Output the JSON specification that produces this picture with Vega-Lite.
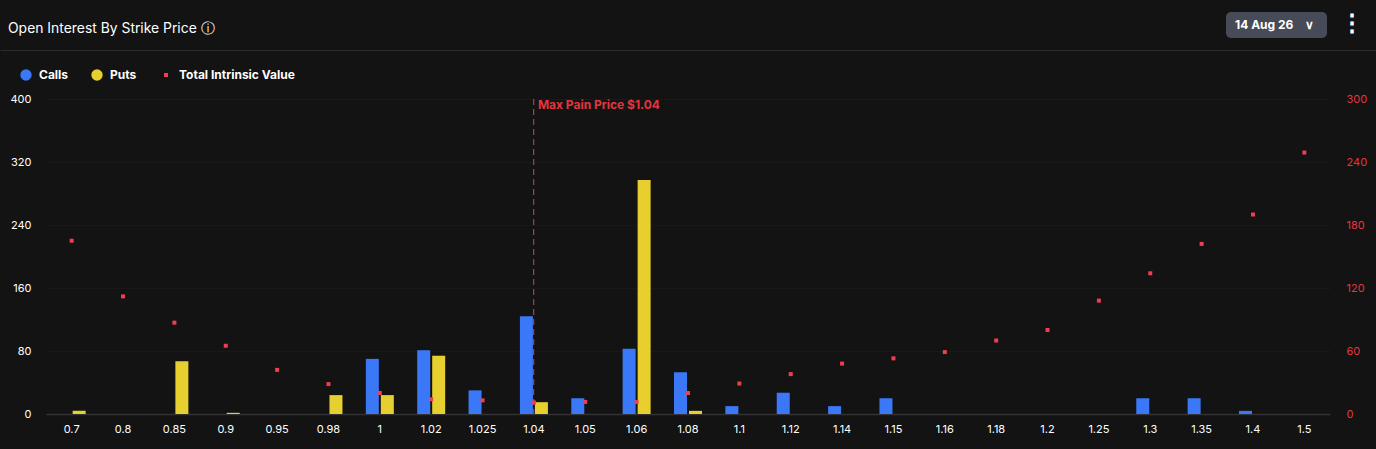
{
  "$schema": "https://vega.github.io/schema/vega-lite/v6.json",
  "description": "Open interest by strike price",
  "autosize": "none",
  "padding": {"left": 0, "top": 50, "right": 0, "bottom": 0},
  "width": 1376,
  "height": 399,
  "background": "#131313",
  "view": {"fill": "#131313", "stroke": "#2a2a30", "strokeDash": [1376, 3000]},
  "title": {
    "text": "Open Interest By Strike Price  ⓘ",
    "anchor": "start",
    "frame": "group",
    "dx": 8,
    "dy": 25,
    "offset": 0,
    "font": "Inter",
    "fontSize": 13.9,
    "fontWeight": 400,
    "color": "#ffffff"
  },
  "datasets": {
    "bars": [
      {"strike": "0.7", "type": "Puts", "oi": 4},
      {"strike": "0.85", "type": "Puts", "oi": 67},
      {"strike": "0.9", "type": "Puts", "oi": 1.5},
      {"strike": "0.98", "type": "Puts", "oi": 24},
      {"strike": "1", "type": "Calls", "oi": 70},
      {"strike": "1", "type": "Puts", "oi": 24},
      {"strike": "1.02", "type": "Calls", "oi": 81},
      {"strike": "1.02", "type": "Puts", "oi": 74},
      {"strike": "1.025", "type": "Calls", "oi": 30},
      {"strike": "1.04", "type": "Calls", "oi": 124},
      {"strike": "1.04", "type": "Puts", "oi": 15},
      {"strike": "1.05", "type": "Calls", "oi": 20},
      {"strike": "1.06", "type": "Calls", "oi": 83},
      {"strike": "1.06", "type": "Puts", "oi": 297},
      {"strike": "1.08", "type": "Calls", "oi": 53},
      {"strike": "1.08", "type": "Puts", "oi": 4},
      {"strike": "1.1", "type": "Calls", "oi": 10},
      {"strike": "1.12", "type": "Calls", "oi": 27},
      {"strike": "1.14", "type": "Calls", "oi": 10},
      {"strike": "1.15", "type": "Calls", "oi": 20},
      {"strike": "1.3", "type": "Calls", "oi": 20},
      {"strike": "1.35", "type": "Calls", "oi": 20},
      {"strike": "1.4", "type": "Calls", "oi": 4}
    ],
    "intrinsic": [
      {"strike": "0.7", "value": 165, "series": "Total Intrinsic Value"},
      {"strike": "0.8", "value": 112, "series": "Total Intrinsic Value"},
      {"strike": "0.85", "value": 87, "series": "Total Intrinsic Value"},
      {"strike": "0.9", "value": 65, "series": "Total Intrinsic Value"},
      {"strike": "0.95", "value": 42, "series": "Total Intrinsic Value"},
      {"strike": "0.98", "value": 28.5, "series": "Total Intrinsic Value"},
      {"strike": "1", "value": 20, "series": "Total Intrinsic Value"},
      {"strike": "1.02", "value": 14, "series": "Total Intrinsic Value"},
      {"strike": "1.025", "value": 13, "series": "Total Intrinsic Value"},
      {"strike": "1.04", "value": 11, "series": "Total Intrinsic Value"},
      {"strike": "1.05", "value": 11.5, "series": "Total Intrinsic Value"},
      {"strike": "1.06", "value": 11.5, "series": "Total Intrinsic Value"},
      {"strike": "1.08", "value": 20, "series": "Total Intrinsic Value"},
      {"strike": "1.1", "value": 29, "series": "Total Intrinsic Value"},
      {"strike": "1.12", "value": 38, "series": "Total Intrinsic Value"},
      {"strike": "1.14", "value": 48, "series": "Total Intrinsic Value"},
      {"strike": "1.15", "value": 53, "series": "Total Intrinsic Value"},
      {"strike": "1.16", "value": 59, "series": "Total Intrinsic Value"},
      {"strike": "1.18", "value": 70, "series": "Total Intrinsic Value"},
      {"strike": "1.2", "value": 80, "series": "Total Intrinsic Value"},
      {"strike": "1.25", "value": 108, "series": "Total Intrinsic Value"},
      {"strike": "1.3", "value": 134, "series": "Total Intrinsic Value"},
      {"strike": "1.35", "value": 162, "series": "Total Intrinsic Value"},
      {"strike": "1.4", "value": 190, "series": "Total Intrinsic Value"},
      {"strike": "1.5", "value": 249, "series": "Total Intrinsic Value"}
    ],
    "maxpain": [
      {"strike": "1.04", "oi": 400, "bottom": 0, "label": "Max Pain Price $1.04"}
    ],
    "expiry": [
      {"expiry": "14 Aug 26"}
    ]
  },
  "encoding": {
    "x": {
      "field": "strike",
      "type": "nominal",
      "sort": null,
      "title": null,
      "scale": {
        "domain": ["0.7", "0.8", "0.85", "0.9", "0.95", "0.98", "1", "1.02", "1.025", "1.04", "1.05", "1.06", "1.08", "1.1", "1.12", "1.14", "1.15", "1.16", "1.18", "1.2", "1.25", "1.3", "1.35", "1.4", "1.5"],
        "range": [46, 1330],
        "paddingInner": 0.455,
        "paddingOuter": 0.227
      },
      "axis": {
        "offset": -35,
        "labelAngle": 0,
        "labelColor": "#ffffff",
        "labelFont": "Inter",
        "labelFontSize": 11,
        "labelPadding": 9,
        "ticks": false,
        "grid": false,
        "domainColor": "#333336",
        "domainWidth": 1.5
      }
    }
  },
  "layer": [
    {
      "encoding": {
        "y": {
          "field": "oi",
          "type": "quantitative",
          "title": null,
          "scale": {"domain": [0, 400], "range": [364, 49], "nice": false},
          "axis": {
            "values": [0, 80, 160, 240, 320, 400],
            "orient": "left",
            "labelColor": "#ffffff",
            "labelFont": "Inter",
            "labelFontSize": 11,
            "labelPadding": -31,
            "ticks": false,
            "domain": false,
            "grid": true,
            "gridColor": "#191919"
          }
        }
      },
      "layer": [
        {
          "data": {"name": "bars"},
          "mark": {"type": "bar"},
          "encoding": {
            "xOffset": {
              "field": "type",
              "type": "nominal",
              "scale": {"domain": ["Calls", "Puts"], "paddingInner": 0.133, "paddingOuter": 0}
            },
            "color": {
              "field": "type",
              "type": "nominal",
              "scale": {"domain": ["Calls", "Puts"], "range": ["#3b78f7", "#e6cf2e"]},
              "legend": {
                "orient": "none",
                "legendX": 20,
                "legendY": 19,
                "direction": "horizontal",
                "title": null,
                "symbolType": "circle",
                "symbolSize": 130,
                "symbolStrokeWidth": 0,
                "labelOffset": 7,
                "labelColor": "#ffffff",
                "labelFont": "Inter",
                "labelFontSize": 12,
                "labelFontWeight": 700,
                "columnPadding": 22,
                "padding": 0
              }
            }
          }
        },
        {
          "data": {"name": "maxpain"},
          "mark": {"type": "rule", "color": "#c8485a", "strokeDash": [6, 4], "strokeWidth": 1, "xOffset": -0.18},
          "encoding": {
            "y2": {"field": "bottom"}
          }
        },
        {
          "data": {"name": "maxpain"},
          "mark": {"type": "text", "align": "left", "baseline": "middle", "dx": 4, "dy": 6, "color": "#e5353f", "font": "Inter", "fontSize": 12, "fontWeight": 700},
          "encoding": {
            "text": {"field": "label"}
          }
        }
      ]
    },
    {
      "data": {"name": "expiry"},
      "mark": {"type": "point", "color": "transparent"},
      "encoding": {
        "x": {"value": 0},
        "y": {"value": 0},
        "opacity": {
          "field": "expiry",
          "type": "nominal",
          "scale": {"domain": ["14 Aug 26"], "range": [0]},
          "legend": {
            "orient": "none",
            "legendX": 1226,
            "legendY": -38,
            "title": null,
            "fillColor": "#474b57",
            "cornerRadius": 5,
            "padding": 7,
            "symbolSize": 1,
            "labelOffset": -10,
            "labelColor": "#ffffff",
            "labelFont": "Inter",
            "labelFontSize": 12,
            "labelFontWeight": 700,
            "labelExpr": "datum.label + '\u00a0\u00a0\u00a0\u00a0∨\u00a0\u00a0\u200b'"
          }
        }
      }
    },
    {
      "data": {"name": "intrinsic"},
      "mark": {"type": "point", "filled": true, "size": 16, "opacity": 1, "color": "#ef3e50"},
      "encoding": {
        "y": {
          "field": "value",
          "type": "quantitative",
          "title": "⋮",
          "scale": {"domain": [0, 300], "range": [364, 49], "nice": false},
          "axis": {
            "orient": "right",
            "values": [0, 60, 120, 180, 240, 300],
            "labelColor": "#e5353f",
            "labelFont": "Inter",
            "labelFontSize": 11,
            "labelPadding": -30,
            "ticks": false,
            "domain": false,
            "grid": false,
            "titleAngle": 0,
            "titleX": -25,
            "titleY": -15,
            "titleColor": "#ffffff",
            "titleFontSize": 24,
            "titleFontWeight": 700
          }
        },
        "shape": {
          "field": "series",
          "type": "nominal",
          "scale": {"domain": ["Total Intrinsic Value"], "range": ["square"]},
          "legend": {
            "orient": "none",
            "legendX": 160,
            "legendY": 19,
            "title": null,
            "symbolSize": 16,
            "symbolType": "square",
            "symbolFillColor": "#ef3e50",
            "symbolStrokeWidth": 0,
            "labelOffset": 7,
            "labelColor": "#ffffff",
            "labelFont": "Inter",
            "labelFontSize": 12,
            "labelFontWeight": 700,
            "padding": 0
          }
        }
      }
    }
  ],
  "resolve": {"scale": {"y": "independent"}, "axis": {"y": "independent"}}
}
